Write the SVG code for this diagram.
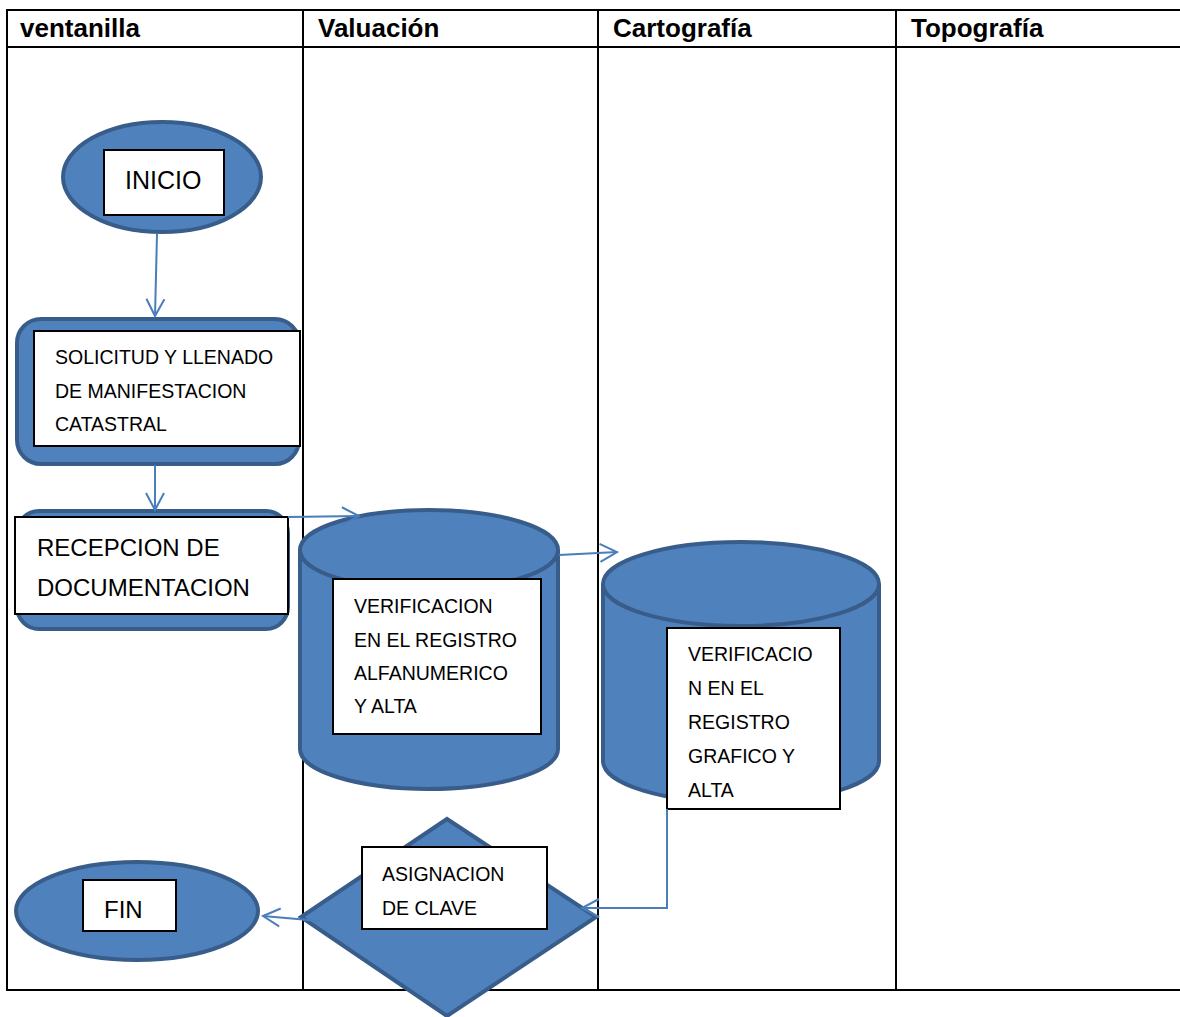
<svg xmlns="http://www.w3.org/2000/svg" width="1180" height="1017" viewBox="0 0 1180 1017">
<defs>
<marker id="arr" markerUnits="userSpaceOnUse" markerWidth="22" markerHeight="22" refX="18" refY="10" orient="auto" viewBox="0 0 22 20">
<path d="M1,1 L18,10 L1,19" fill="none" stroke="#4a7ebb" stroke-width="2"/>
</marker>
</defs>
<style>
.grid{stroke:#000;stroke-width:2;fill:none}
.hd{font-family:"Liberation Sans",Arial,sans-serif;font-weight:bold;font-size:26px;fill:#000}
.shape{fill:#4f81bd;stroke:#385d8a;stroke-width:4}
.box{fill:#fff;stroke:#000;stroke-width:2}
.t{font-family:"Liberation Sans",Arial,sans-serif;font-size:19.5px;fill:#000}
.tl{font-family:"Liberation Sans",Arial,sans-serif;font-size:24px;fill:#000}
.con{fill:none;stroke:#4a7ebb;stroke-width:2;marker-end:url(#arr)}
</style>
<rect width="1180" height="1017" fill="#fff"/>
<g id="table">
<line class="grid" x1="7" y1="10" x2="1180" y2="10"/>
<line class="grid" x1="7" y1="47" x2="1180" y2="47"/>
<line class="grid" x1="7" y1="990" x2="1180" y2="990"/>
<line class="grid" x1="7" y1="9" x2="7" y2="991"/>
<line class="grid" x1="303" y1="10" x2="303" y2="990"/>
<line class="grid" x1="598" y1="10" x2="598" y2="990"/>
<line class="grid" x1="896" y1="10" x2="896" y2="990"/>
<text class="hd" x="20" y="37">ventanilla</text>
<text class="hd" x="318" y="37">Valuación</text>
<text class="hd" x="613" y="37">Cartografía</text>
<text class="hd" x="911" y="37">Topografía</text>
</g>
<g id="inicio">
<ellipse class="shape" cx="162" cy="177" rx="99" ry="55"/>
<rect class="box" x="104" y="150" width="120" height="65"/>
<text class="tl" x="125" y="189" style="font-size:25px">INICIO</text>
</g>
<g id="solicitud">
<rect class="shape" x="17" y="319" width="282" height="145" rx="24"/>
<rect class="box" x="34" y="331" width="266" height="115"/>
<text class="t" x="55" y="364">SOLICITUD Y LLENADO</text>
<text class="t" x="55" y="398">DE MANIFESTACION</text>
<text class="t" x="55" y="431">CATASTRAL</text>
</g>
<g id="recepcion">
<rect class="shape" x="17" y="511" width="271" height="118" rx="22"/>
<rect class="box" x="15" y="517" width="273" height="97"/>
<text class="tl" x="37" y="556">RECEPCION DE</text>
<text class="tl" x="37" y="596">DOCUMENTACION</text>
</g>
<g id="verificacion-alfanumerico">
<path class="shape" d="M300,550 L300,749 A129,40 0 0 0 558,749 L558,550 A129,40 0 0 0 300,550 Z"/>
<path fill="none" stroke="#385d8a" stroke-width="4" d="M300,550 A129,40 0 0 0 558,550"/>
<rect class="box" x="333" y="579" width="208" height="155"/>
<text class="t" x="354" y="613">VERIFICACION</text>
<text class="t" x="354" y="647">EN EL REGISTRO</text>
<text class="t" x="354" y="680">ALFANUMERICO</text>
<text class="t" x="354" y="713">Y ALTA</text>
</g>
<g id="verificacion-grafico">
<path class="shape" d="M603,584 L603,761 A138,42 0 0 0 879,761 L879,584 A138,42 0 0 0 603,584 Z"/>
<path fill="none" stroke="#385d8a" stroke-width="4" d="M603,584 A138,42 0 0 0 879,584"/>
<rect class="box" x="667" y="628" width="173" height="181"/>
<text class="t" x="688" y="661">VERIFICACIO</text>
<text class="t" x="688" y="695">N EN EL</text>
<text class="t" x="688" y="729">REGISTRO</text>
<text class="t" x="688" y="763">GRAFICO Y</text>
<text class="t" x="688" y="797">ALTA</text>
</g>
<g id="asignacion">
<polygon class="shape" points="447,819 596,917 447,1016 301,917"/>
<rect class="box" x="362" y="847" width="185" height="82"/>
<text class="t" x="382" y="881">ASIGNACION</text>
<text class="t" x="382" y="915">DE CLAVE</text>
</g>
<g id="fin">
<ellipse class="shape" cx="137" cy="911" rx="121" ry="49"/>
<rect class="box" x="83" y="880" width="93" height="51"/>
<text class="tl" x="104" y="918">FIN</text>
</g>
<g id="connectors">
<path class="con" d="M157,234 L155,316"/>
<path class="con" d="M155,465 L155,510"/>
<path class="con" d="M288,517 L359,516"/>
<path class="con" d="M559,555 L617,552"/>
<path class="con" d="M667,809 L667,908 L582,908"/>
<path class="con" d="M320,921 L263,916"/>
</g>
</svg>
